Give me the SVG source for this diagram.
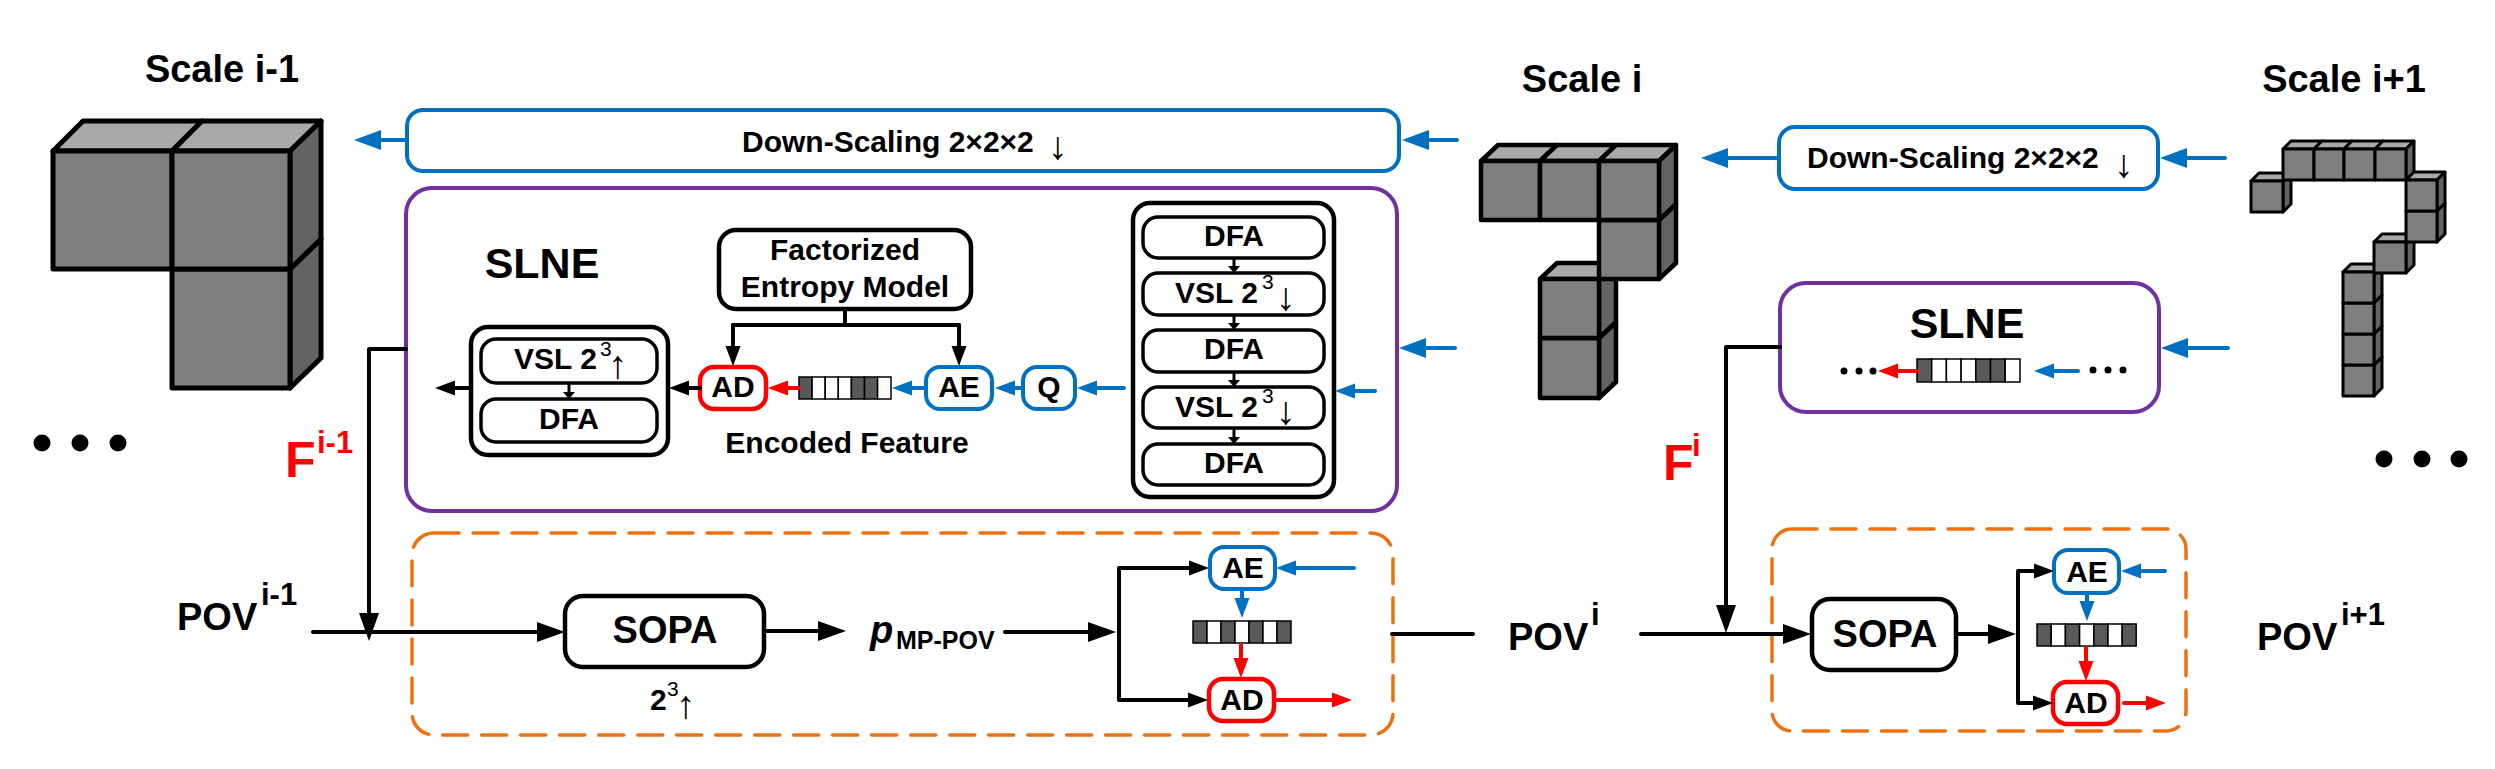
<svg xmlns="http://www.w3.org/2000/svg" width="2495" height="769" viewBox="0 0 2495 769">
<style>
text{font-family:"Liberation Sans",Arial,sans-serif;font-weight:700;fill:#000;text-anchor:middle}
.t30{font-size:30px}.t38{font-size:38px}.t43{font-size:43px}.t50{font-size:50px}
.s{text-anchor:start}
.sup{font-size:21px;font-weight:400;text-anchor:start}
.ar{font-family:"Liberation Serif",serif;font-weight:400;font-size:39px}
.sup30{font-size:31px;text-anchor:start}
.red{fill:#f00}
.dot{fill:#000}
.f{fill:#7f7f7f}.tp{fill:#a9a9a9}.sd{fill:#636363}
.c1 polygon{stroke:#000;stroke-width:5;stroke-linejoin:round}
.c2 polygon{stroke:#000;stroke-width:4.5;stroke-linejoin:round}
.c3 polygon{stroke:#000;stroke-width:3;stroke-linejoin:round}
.bx{fill:#fff;stroke:#000;stroke-width:3.5}
.outer{fill:#fff;stroke:#000;stroke-width:4.5}
.blue{fill:#fff;stroke:#0070c0;stroke-width:4}
.rd{fill:#fff;stroke:#f00;stroke-width:4.5}
.pur{fill:#fff;stroke:#7030a0;stroke-width:4}
.or{fill:none;stroke:#ec7211;stroke-width:3.5;stroke-dasharray:25 14;stroke-linecap:round}
.k{stroke:#000;stroke-width:4;fill:none;stroke-linecap:round;stroke-linejoin:round}
.kt{stroke:#000;stroke-width:3;fill:none}
.b{stroke:#0070c0;stroke-width:4;fill:none;stroke-linecap:round}
.r{stroke:#f00;stroke-width:4;fill:none;stroke-linecap:round}
.dk{fill:#595959;stroke:#000;stroke-width:1.5}
.wh{fill:#fff;stroke:#000;stroke-width:1.5}
</style>
<defs>
<marker id="kl" markerUnits="userSpaceOnUse" orient="auto" markerWidth="30" markerHeight="24" refX="0" refY="12" overflow="visible"><path d="M0 2L28 12L0 22Z" fill="#000"/></marker>
<marker id="km" markerUnits="userSpaceOnUse" orient="auto" markerWidth="22" markerHeight="18" refX="0" refY="9" overflow="visible"><path d="M0 1.500L20 9L0 16.500Z" fill="#000"/></marker>
<marker id="ks" markerUnits="userSpaceOnUse" orient="auto" markerWidth="9" markerHeight="14" refX="0" refY="7" overflow="visible"><path d="M0 1L7 7L0 13Z" fill="#000"/></marker>
<marker id="bl" markerUnits="userSpaceOnUse" orient="auto" markerWidth="30" markerHeight="24" refX="0" refY="12" overflow="visible"><path d="M0 2L27 12L0 22Z" fill="#0070c0"/></marker>
<marker id="bm" markerUnits="userSpaceOnUse" orient="auto" markerWidth="22" markerHeight="18" refX="0" refY="9" overflow="visible"><path d="M0 1.500L20 9L0 16.500Z" fill="#0070c0"/></marker>
<marker id="rm" markerUnits="userSpaceOnUse" orient="auto" markerWidth="22" markerHeight="18" refX="0" refY="9" overflow="visible"><path d="M0 1.500L20 9L0 16.500Z" fill="#f00"/></marker>
</defs>

<g id="cube-scale-i-minus-1" class="c1">
<polygon class="sd" points="290,269 321,239 321,358 290,388"/><polygon class="f" points="172,269 290,269 290,388 172,388"/>
<polygon class="tp" points="53,151 83,121 202,121 172,151"/><polygon class="f" points="53,151 172,151 172,269 53,269"/>
<polygon class="tp" points="172,151 202,121 321,121 290,151"/><polygon class="sd" points="290,151 321,121 321,239 290,269"/><polygon class="f" points="172,151 290,151 290,269 172,269"/>
</g>
<g id="cube-scale-i" class="c2">
<polygon class="sd" points="1599,338 1616,322 1616,382 1599,398"/><polygon class="f" points="1540,338 1599,338 1599,398 1540,398"/>
<polygon class="tp" points="1540,279 1557,263 1616,263 1599,279"/><polygon class="sd" points="1599,279 1616,263 1616,322 1599,338"/><polygon class="f" points="1540,279 1599,279 1599,338 1540,338"/>
<polygon class="sd" points="1659,220 1676,204 1676,263 1659,279"/><polygon class="f" points="1599,220 1659,220 1659,279 1599,279"/>
<polygon class="tp" points="1481,161 1498,145 1557,145 1540,161"/><polygon class="f" points="1481,161 1540,161 1540,220 1481,220"/>
<polygon class="tp" points="1540,161 1557,145 1616,145 1599,161"/><polygon class="f" points="1540,161 1599,161 1599,220 1540,220"/>
<polygon class="tp" points="1599,161 1616,145 1676,145 1659,161"/><polygon class="sd" points="1659,161 1676,145 1676,204 1659,220"/><polygon class="f" points="1599,161 1659,161 1659,220 1599,220"/>
</g>
<g id="cube-scale-i-plus-1" class="c3">
<polygon class="sd" points="2374,365 2382,357 2382,388 2374,396"/><polygon class="f" points="2343,365 2374,365 2374,396 2343,396"/>
<polygon class="sd" points="2374,334 2382,326 2382,357 2374,365"/><polygon class="f" points="2343,334 2374,334 2374,365 2343,365"/>
<polygon class="sd" points="2374,303 2382,295 2382,326 2374,334"/><polygon class="f" points="2343,303 2374,303 2374,334 2343,334"/>
<polygon class="tp" points="2343,272 2351,264 2382,264 2374,272"/><polygon class="sd" points="2374,272 2382,264 2382,295 2374,303"/><polygon class="f" points="2343,272 2374,272 2374,303 2343,303"/>
<polygon class="tp" points="2374,242 2382,234 2414,234 2406,242"/><polygon class="sd" points="2406,242 2414,234 2414,265 2406,273"/><polygon class="f" points="2374,242 2406,242 2406,273 2374,273"/>
<polygon class="tp" points="2251,181 2259,173 2291,173 2283,181"/><polygon class="sd" points="2283,181 2291,173 2291,204 2283,212"/><polygon class="f" points="2251,181 2283,181 2283,212 2251,212"/>
<polygon class="tp" points="2283,149 2291,141 2322,141 2314,149"/><polygon class="f" points="2283,149 2314,149 2314,180 2283,180"/>
<polygon class="tp" points="2314,149 2322,141 2352,141 2344,149"/><polygon class="f" points="2314,149 2344,149 2344,180 2314,180"/>
<polygon class="tp" points="2344,149 2352,141 2383,141 2375,149"/><polygon class="f" points="2344,149 2375,149 2375,180 2344,180"/>
<polygon class="tp" points="2375,149 2383,141 2414,141 2406,149"/><polygon class="sd" points="2406,149 2414,141 2414,172 2406,180"/><polygon class="f" points="2375,149 2406,149 2406,180 2375,180"/>
<polygon class="sd" points="2437,211 2445,203 2445,234 2437,242"/><polygon class="f" points="2406,211 2437,211 2437,242 2406,242"/>
<polygon class="tp" points="2406,180 2414,172 2445,172 2437,180"/><polygon class="sd" points="2437,180 2445,172 2445,203 2437,211"/><polygon class="f" points="2406,180 2437,180 2437,211 2406,211"/>
</g>

<g id="titles">
<text class="t38" x="222" y="82">Scale i-1</text>
<text class="t38" x="1582" y="92">Scale i</text>
<text class="t38" x="2344" y="92">Scale i+1</text>
</g>
<g id="ellipsis-left"><circle class="dot" cx="42" cy="443" r="8.500"/><circle class="dot" cx="80" cy="443" r="8.500"/><circle class="dot" cx="118" cy="443" r="8.500"/></g>
<g id="ellipsis-right"><circle class="dot" cx="2384" cy="459" r="8.500"/><circle class="dot" cx="2422" cy="459" r="8.500"/><circle class="dot" cx="2459" cy="459" r="8.500"/></g>

<g id="downscale-large">
<rect class="blue" x="407" y="110" width="992" height="61" rx="16"/>
<text class="t30 s" x="742" y="152">Down-Scaling 2×2×2 <tspan class="ar" x="1048" y="159">↓</tspan></text>
</g>
<g id="downscale-small">
<rect class="blue" x="1779" y="127" width="379" height="62" rx="16"/>
<text class="t30 s" x="1807" y="168">Down-Scaling 2×2×2 <tspan class="ar" x="2114" y="177">↓</tspan></text>
</g>
<g id="slne-large">
<rect class="pur" x="406" y="188" width="991" height="323" rx="26"/>
<text class="t43" x="542" y="278">SLNE</text>
</g>
<g id="slne-small">
<rect class="pur" x="1780" y="283" width="379" height="129" rx="26"/>
<text class="t43" x="1967" y="338">SLNE</text>
</g>
<g id="pred-left"><rect class="or" x="412" y="533" width="981" height="202" rx="22"/></g>
<g id="pred-right"><rect class="or" x="1772" y="529" width="414" height="202" rx="20"/></g>

<g id="factorized"><rect class="outer" x="719" y="230" width="252" height="79" rx="17"/>
<text class="t30" x="845" y="260">Factorized</text><text class="t30" x="845" y="297">Entropy Model</text></g>
<g id="vsl-up-group">
<rect class="outer" x="471" y="327" width="197" height="128" rx="17"/>
<rect class="bx" x="481" y="339" width="176" height="44" rx="15"/>
<rect class="bx" x="481" y="399" width="176" height="43" rx="15"/>
<text class="t30 s" x="514" y="369">VSL 2<tspan class="sup" x="600" y="356">3</tspan><tspan class="ar" x="608" y="378">↑</tspan></text>
<text class="t30" x="569" y="429">DFA</text>
</g>
<g id="ad-1"><rect class="rd" x="700" y="367" width="66" height="42" rx="14"/><text class="t30" x="733" y="397">AD</text></g>
<g id="bits-1">
<rect class="dk" x="799" y="377" width="13.100" height="22"/><rect class="wh" x="812.100" y="377" width="13.100" height="22"/><rect class="wh" x="825.200" y="377" width="13.100" height="22"/><rect class="wh" x="838.300" y="377" width="13.100" height="22"/><rect class="dk" x="851.400" y="377" width="13.100" height="22"/><rect class="dk" x="864.500" y="377" width="13.100" height="22"/><rect class="wh" x="877.600" y="377" width="13.400" height="22"/>
</g>
<g id="ae-1"><rect class="blue" x="926" y="367" width="66" height="42" rx="14"/><text class="t30" x="959" y="397">AE</text></g>
<g id="q"><rect class="blue" x="1023" y="367" width="52" height="42" rx="14"/><text class="t30" x="1049" y="397">Q</text></g>
<text id="encoded-feature" class="t30" x="847" y="453">Encoded Feature</text>
<g id="vsl-down-group">
<rect class="outer" x="1133" y="203" width="201" height="294" rx="17"/>
<rect class="bx" x="1143" y="217" width="181" height="41" rx="15"/>
<rect class="bx" x="1143" y="273" width="181" height="42" rx="15"/>
<rect class="bx" x="1143" y="330" width="181" height="42" rx="15"/>
<rect class="bx" x="1143" y="387" width="181" height="41" rx="15"/>
<rect class="bx" x="1143" y="444" width="181" height="41" rx="15"/>
<text class="t30" x="1234" y="246">DFA</text>
<text class="t30 s" x="1175" y="303">VSL 2<tspan class="sup" x="1262" y="289">3</tspan><tspan class="ar" x="1276" y="310">↓</tspan></text>
<text class="t30" x="1234" y="359">DFA</text>
<text class="t30 s" x="1175" y="417">VSL 2<tspan class="sup" x="1262" y="403">3</tspan><tspan class="ar" x="1276" y="424">↓</tspan></text>
<text class="t30" x="1234" y="473">DFA</text>
</g>
<g id="slne-small-content">
<circle class="dot" cx="1844" cy="371" r="3.500"/><circle class="dot" cx="1859" cy="371" r="3.500"/><circle class="dot" cx="1873" cy="371" r="3.500"/>
<circle class="dot" cx="2093" cy="370" r="3.500"/><circle class="dot" cx="2108" cy="370" r="3.500"/><circle class="dot" cx="2123" cy="370" r="3.500"/>
<rect class="dk" x="1917" y="359" width="14.700" height="23"/><rect class="wh" x="1931.700" y="359" width="14.700" height="23"/><rect class="wh" x="1946.400" y="359" width="14.700" height="23"/><rect class="wh" x="1961.100" y="359" width="14.700" height="23"/><rect class="dk" x="1975.800" y="359" width="14.700" height="23"/><rect class="dk" x="1990.500" y="359" width="14.700" height="23"/><rect class="wh" x="2005.200" y="359" width="14.800" height="23"/>
</g>

<g id="f-labels">
<text class="t50 red s" x="285" y="477">F<tspan class="sup30" x="317" y="453">i-1</tspan></text>
<text class="t50 red s" x="1663" y="480">F<tspan class="sup30" x="1692" y="456">i</tspan></text>
</g>
<g id="pov-labels">
<text class="t38 s" x="177" y="630">POV<tspan class="sup30" x="261" y="605">i-1</tspan></text>
<text class="t38 s" x="1508" y="650">POV<tspan class="sup30" x="1591" y="625">i</tspan></text>
<text class="t38 s" x="2257" y="650">POV<tspan class="sup30" x="2341" y="625">i+1</tspan></text>
</g>
<g id="sopa-1"><rect class="outer" x="565" y="596" width="199" height="71" rx="18"/><text class="t38" x="665" y="643">SOPA</text>
<text class="t30 s" x="650" y="710">2<tspan class="sup" x="667" y="696">3</tspan><tspan class="ar" x="676" y="718">↑</tspan></text></g>
<text id="p-mp-pov" class="s" style="font-size:38px;font-style:italic" x="870" y="643">p<tspan x="896" y="649" style="font-size:25px;font-style:normal">MP-POV</tspan></text>
<g id="ae-2"><rect class="blue" x="1210" y="547" width="65" height="42" rx="14"/><text class="t30" x="1243" y="578">AE</text></g>
<g id="bits-2">
<rect class="dk" x="1193" y="621" width="14" height="22"/><rect class="wh" x="1207" y="621" width="14" height="22"/><rect class="dk" x="1221" y="621" width="14" height="22"/><rect class="wh" x="1235" y="621" width="14" height="22"/><rect class="dk" x="1249" y="621" width="14" height="22"/><rect class="wh" x="1263" y="621" width="14" height="22"/><rect class="dk" x="1277" y="621" width="14" height="22"/>
</g>
<g id="ad-2"><rect class="rd" x="1209" y="679" width="65" height="42" rx="14"/><text class="t30" x="1242" y="710">AD</text></g>
<g id="sopa-2"><rect class="outer" x="1812" y="599" width="144" height="71" rx="18"/><text class="t38" x="1885" y="647">SOPA</text></g>
<g id="ae-3"><rect class="blue" x="2054" y="550" width="65" height="43" rx="14"/><text class="t30" x="2087" y="582">AE</text></g>
<g id="bits-3">
<rect class="dk" x="2037" y="624" width="14.200" height="22"/><rect class="wh" x="2051.200" y="624" width="14.200" height="22"/><rect class="dk" x="2065.400" y="624" width="14.200" height="22"/><rect class="wh" x="2079.600" y="624" width="14.200" height="22"/><rect class="dk" x="2093.800" y="624" width="14.200" height="22"/><rect class="wh" x="2108" y="624" width="14.200" height="22"/><rect class="dk" x="2122.200" y="624" width="14" height="22"/>
</g>
<g id="ad-3"><rect class="rd" x="2053" y="682" width="65" height="42" rx="14"/><text class="t30" x="2086" y="713">AD</text></g>

<g id="connectors">
<path class="b" d="M407 140H381" marker-end="url(#bl)"/>
<path class="b" d="M1457 140H1429" marker-end="url(#bl)"/>
<path class="b" d="M1779 158H1728" marker-end="url(#bl)"/>
<path class="b" d="M2225 158H2187" marker-end="url(#bl)"/>
<path class="b" d="M1455 348H1426" marker-end="url(#bl)"/>
<path class="b" d="M2228 348H2188" marker-end="url(#bl)"/>
<path class="b" d="M1375 391H1355" marker-end="url(#bm)"/>
<path class="b" d="M1124 388H1097" marker-end="url(#bm)"/>
<path class="b" d="M1023 388H1015" marker-end="url(#bm)"/>
<path class="b" d="M926 388H912" marker-end="url(#bm)"/>
<path class="r" d="M799 388H788" marker-end="url(#rm)"/>
<path class="k" d="M700 388H689" marker-end="url(#km)"/>
<path class="k" d="M471 388H455" marker-end="url(#km)"/>
<path class="k" d="M845 309V325M733 325H959"/>
<path class="k" d="M733 325V346" marker-end="url(#km)"/>
<path class="k" d="M959 325V346" marker-end="url(#km)"/>
<path class="kt" d="M569 383V392" marker-end="url(#ks)"/>
<path class="kt" d="M1234 258V266" marker-end="url(#ks)"/>
<path class="kt" d="M1234 315V323" marker-end="url(#ks)"/>
<path class="kt" d="M1234 372V380" marker-end="url(#ks)"/>
<path class="kt" d="M1234 428V437" marker-end="url(#ks)"/>
<path class="k" d="M406 349H369V613" marker-end="url(#kl)"/>
<path class="k" d="M313 632H537" marker-end="url(#kl)"/>
<path class="k" d="M764 631H818" marker-end="url(#kl)"/>
<path class="k" d="M1005 632H1088" marker-end="url(#kl)"/>
<path class="k" d="M1170 568H1119V700H1170"/>
<path class="k" d="M1170 568H1189" marker-end="url(#km)"/>
<path class="k" d="M1170 700H1188" marker-end="url(#km)"/>
<path class="b" d="M1354 568H1296" marker-end="url(#bm)"/>
<path class="b" d="M1242 589V598" marker-end="url(#bm)"/>
<path class="r" d="M1241 645V658" marker-end="url(#rm)"/>
<path class="r" d="M1274 700H1332" marker-end="url(#rm)"/>
<path class="k" d="M1392 634H1473"/>
<path class="k" d="M1641 634H1783" marker-end="url(#kl)"/>
<path class="k" d="M1780 347H1726V605" marker-end="url(#kl)"/>
<path class="k" d="M1956 634H1988" marker-end="url(#kl)"/>
<path class="k" d="M2028 571H2018V703H2028"/>
<path class="k" d="M2020 571H2034" marker-end="url(#km)"/>
<path class="k" d="M2020 703H2033" marker-end="url(#km)"/>
<path class="b" d="M2165 571H2141" marker-end="url(#bm)"/>
<path class="b" d="M2087 593V601" marker-end="url(#bm)"/>
<path class="r" d="M2086 648V661" marker-end="url(#rm)"/>
<path class="r" d="M2124 703H2146" marker-end="url(#rm)"/>
<path class="r" d="M1917 371H1898" marker-end="url(#rm)"/>
<path class="b" d="M2078 371H2054" marker-end="url(#bm)"/>
</g>
</svg>
